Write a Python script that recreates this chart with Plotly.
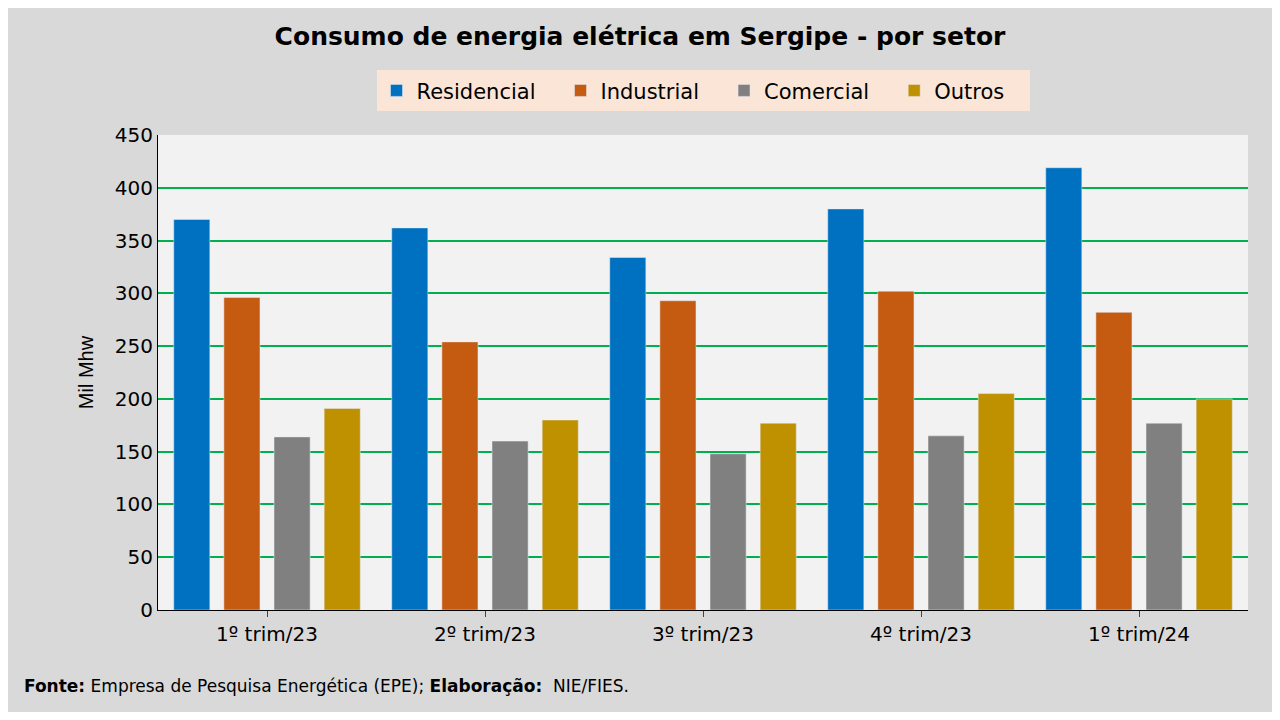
import plotly.graph_objects as go

categories = ["1º trim/23", "2º trim/23", "3º trim/23", "4º trim/23", "1º trim/24"]
residencial = [370, 362, 334, 380, 419]
industrial = [296, 254, 293, 302, 282]
comercial = [164, 160, 148, 165, 177]
outros = [191, 180, 177, 205, 200]

series = [("Residencial", residencial, "#0070c0"),
          ("Industrial", industrial, "#c55a11"),
          ("Comercial", comercial, "#808080"),
          ("Outros", outros, "#bf9000")]

fig = go.Figure()
for name, vals, col in series:
    fig.add_trace(go.Bar(name=name + "   ", x=categories, y=vals, marker_color=col))

font = "DejaVu Sans"
fig.update_layout(
    width=1264, height=704,
    paper_bgcolor="#d9d9d9", plot_bgcolor="#f2f2f2",
    barmode="group", bargap=0.08, bargroupgap=0.28,
    margin=dict(l=150, r=24, t=127, b=102),
    title=dict(text="<b>Consumo de energia elétrica em Sergipe - por setor</b>",
               x=0.5, xanchor="center", y=0.96, yanchor="middle",
               font=dict(family=font, size=25, color="black")),
    legend=dict(orientation="h", x=0.5, xanchor="center", y=1.05, yanchor="bottom",
                bgcolor="#fbe5d6", font=dict(family=font, size=21, color="black"),
                itemwidth=30, traceorder="normal"),
    font=dict(family=font, color="black"),
)
fig.update_yaxes(range=[0, 450], dtick=50, gridcolor="#00b050", gridwidth=1.5,
                 tickfont=dict(size=20), showline=True, linecolor="black",
                 title=dict(text="Mil Mhw", font=dict(family="Liberation Sans", size=20)),
                 zeroline=False)
fig.update_xaxes(tickfont=dict(size=20), showline=True, linecolor="black",
                 ticks="outside", ticklen=6)
fig.add_annotation(text="<b>Fonte:</b> Empresa de Pesquisa Energética (EPE); <b>Elaboração:</b>  NIE/FIES.",
                   xref="paper", yref="paper", x=-0.125, y=-0.16, xanchor="left", yanchor="middle",
                   showarrow=False, font=dict(family=font, size=17, color="black"))
fig.write_html("out.html")
